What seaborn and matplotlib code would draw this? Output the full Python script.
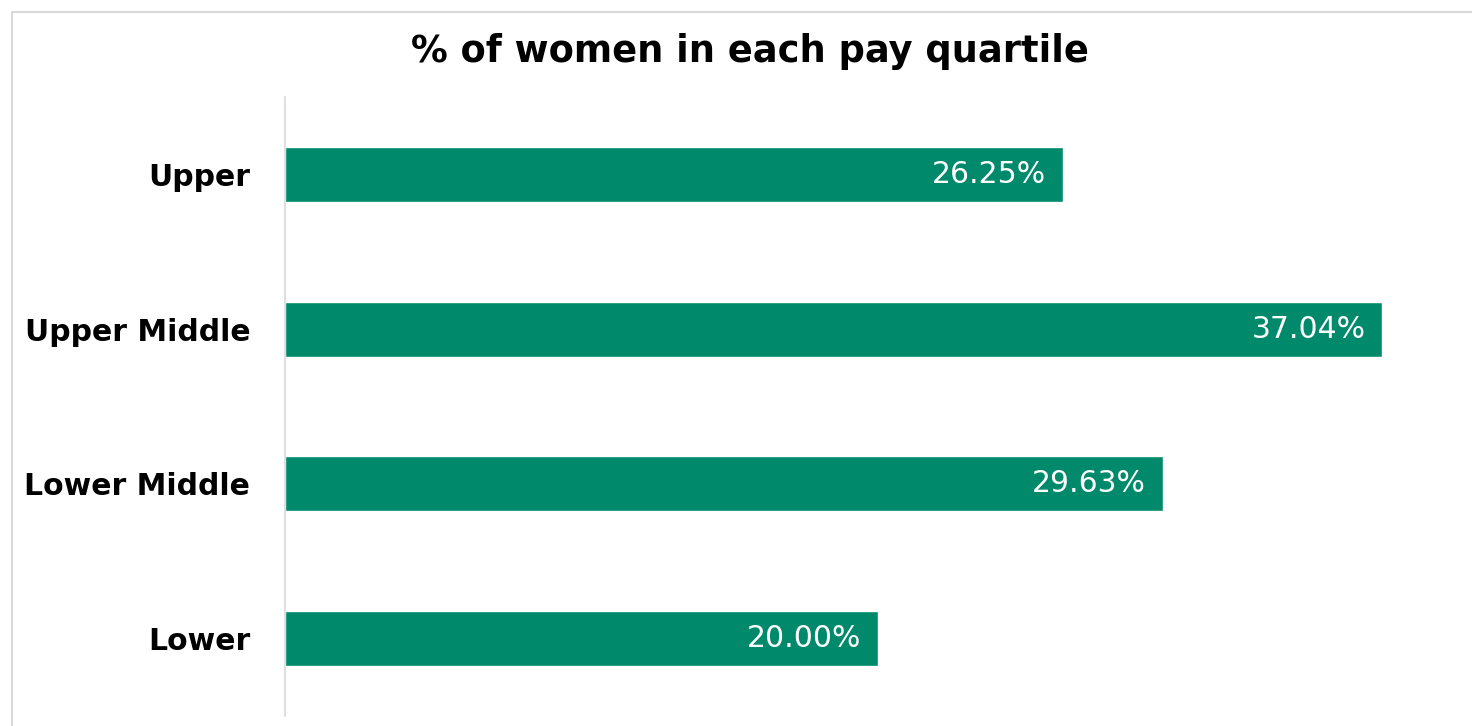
import matplotlib
matplotlib.use("Agg")
import matplotlib.pyplot as plt
import seaborn as sns
import pandas as pd
from matplotlib.patches import Rectangle

categories = ["Upper", "Upper Middle", "Lower Middle", "Lower"]
values = [26.25, 37.04, 29.63, 20.00]
labels = ["26.25%", "37.04%", "29.63%", "20.00%"]
title = "% of women in each pay quartile"

sns.set_theme(style="white")
plt.rcParams['font.family'] = ['DejaVu Sans']

W, H = 1472, 726
fig = plt.figure(figsize=(W / 100, H / 100), dpi=100)
ax = fig.add_axes([285 / W, 1 - 716 / H, (1470 - 285) / W, (716 - 97) / H])

df = pd.DataFrame({"cat": categories, "val": values})
sns.barplot(data=df, y="cat", x="val", orient="h", color="#00896A",
            saturation=1, width=0.355, ax=ax)

ax.set_xlim(0, 40)
ax.set_ylim(3.5, -0.5)
ax.set_xlabel("")
ax.set_ylabel("")
ax.set_xticks([])
for s in ["top", "right", "bottom"]:
    ax.spines[s].set_visible(False)
ax.spines["left"].set_color("#D9D9D9")
ax.spines["left"].set_linewidth(1.2)
ax.tick_params(axis="y", length=0, pad=25)
for t in ax.get_yticklabels():
    t.set_fontsize(21.5)
    t.set_fontweight("bold")
    t.set_color("black")

for i, (v, lab) in enumerate(zip(values, labels)):
    ax.annotate(lab, xy=(v, i), xytext=(-12, 0), textcoords="offset points",
                ha="right", va="center", color="white", fontsize=21.5)

fig.text(750 / W, 1 - 52 / H, title, ha="center", va="center",
         fontsize=26.5, fontweight="bold", color="black")

fig.patches.append(Rectangle((12 / W, -0.1), 1.2, 1 - 12 / H + 0.1,
                             transform=fig.transFigure, fill=False,
                             edgecolor="#D9D9D9", linewidth=1.5))

fig.savefig("out.png", dpi=100, facecolor="white")
